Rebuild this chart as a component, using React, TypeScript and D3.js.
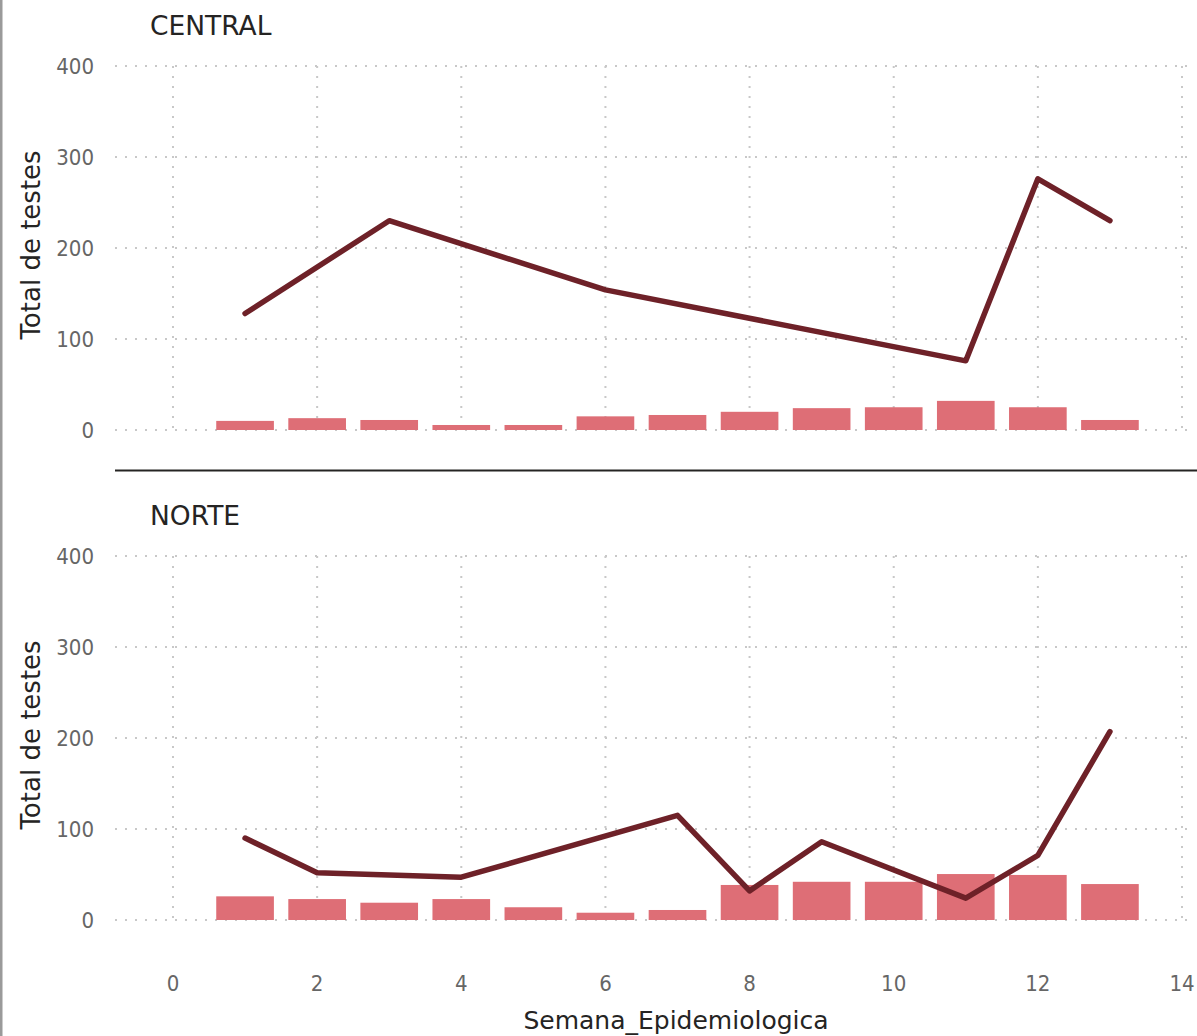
import React from "react";
import * as d3 from "d3";

const weeks = [1, 2, 3, 4, 5, 6, 7, 8, 9, 10, 11, 12, 13];
const centralBars = [10, 13, 11, 5.5, 5.5, 15, 16.5, 20, 24, 25, 32, 25, 11];
const centralLineWeeks = [1, 3, 6, 11, 12, 13];
const centralLine = [128, 230, 154, 76, 276, 230];
const norteBars = [26, 23, 19, 23, 14, 8, 11, 38.5, 42, 42, 50.5, 49.5, 39.5];
const norteLineWeeks = [1, 2, 4, 7, 8, 9, 11, 12, 13];
const norteLine = [90, 52, 47, 115, 32, 86, 24, 71, 207];
const panelNames = ["CENTRAL", "NORTE"];
const yTicks = [0, 100, 200, 300, 400];
const xTicks = [0, 2, 4, 6, 8, 10, 12, 14];

const W = 1197;
const H = 1036;
const FONT_C = "'DejaVu Sans Condensed', 'DejaVu Sans', sans-serif";
const FONT = "'DejaVu Sans', sans-serif";
const BAR = "#DE6E76";
const LINE = "#6E2128";
const GRID = "#C8C8C8";

const x = d3.scaleLinear().domain([0, 14]).range([173, 1182]);
const bandW = (x(1) - x(0)) * 0.8;

function Panel({ name, top, bars, lw, lv }: { name: string; top: number; bars: number[]; lw: number[]; lv: number[] }) {
  const y = d3.scaleLinear().domain([0, 400]).range([top + 364, top]);
  const line = d3
    .line<number>()
    .x((_, i) => x(lw[i]))
    .y((d) => y(d));
  return (
    <g>
      <text x={150} y={top - 31} fontFamily={FONT} fontSize={26.5} fill="#252423">
        {name}
      </text>
      {yTicks.map((t) => (
        <g key={"h" + t}>
          <line x1={115} x2={1190} y1={y(t)} y2={y(t)} stroke={GRID} strokeWidth={2} strokeDasharray="2 8" />
          <text x={94} y={y(t)} dy="0.35em" textAnchor="end" fontFamily={FONT_C} fontSize={22} fill="#666666">
            {t}
          </text>
        </g>
      ))}
      {xTicks.map((t) => (
        <line key={"v" + t} x1={x(t)} x2={x(t)} y1={y(400)} y2={y(0)} stroke={GRID} strokeWidth={2} strokeDasharray="2 8" />
      ))}
      {bars.map((v, i) => (
        <rect key={"b" + i} x={x(weeks[i]) - bandW / 2} width={bandW} y={y(v)} height={y(0) - y(v)} fill={BAR} />
      ))}
      <path d={line(lv) || ""} fill="none" stroke={LINE} strokeWidth={5.5} strokeLinejoin="round" strokeLinecap="round" />
      <text
        transform={`translate(31,${top + 179}) rotate(-90)`}
        textAnchor="middle"
        dy="0.35em"
        fontFamily={FONT}
        fontSize={26}
        fill="#252423"
      >
        Total de testes
      </text>
    </g>
  );
}

export default function App() {
  return (
    <div style={{ position: "absolute", left: 0, top: 0, width: W, height: H, background: "#fff" }}>
      <svg width={W} height={H} style={{ display: "block" }}>
        <rect x={0} y={0} width={W} height={H} fill="#ffffff" />
        <line x1={1} x2={1} y1={0} y2={H} stroke="#9a9a9a" strokeWidth={3} />
        <Panel name={panelNames[0]} top={66} bars={centralBars} lw={centralLineWeeks} lv={centralLine} />
        <line x1={115} x2={W} y1={470.5} y2={470.5} stroke="#252423" strokeWidth={2} />
        <Panel name={panelNames[1]} top={556} bars={norteBars} lw={norteLineWeeks} lv={norteLine} />
        {xTicks.map((t) => (
          <text key={"xt" + t} x={x(t)} y={983} dy="0.35em" textAnchor="middle" fontFamily={FONT_C} fontSize={22} fill="#666666">
            {t}
          </text>
        ))}
        <text x={676} y={1020} dy="0.35em" textAnchor="middle" fontFamily={FONT} fontSize={25} fill="#252423">
          Semana_Epidemiologica
        </text>
      </svg>
    </div>
  );
}
